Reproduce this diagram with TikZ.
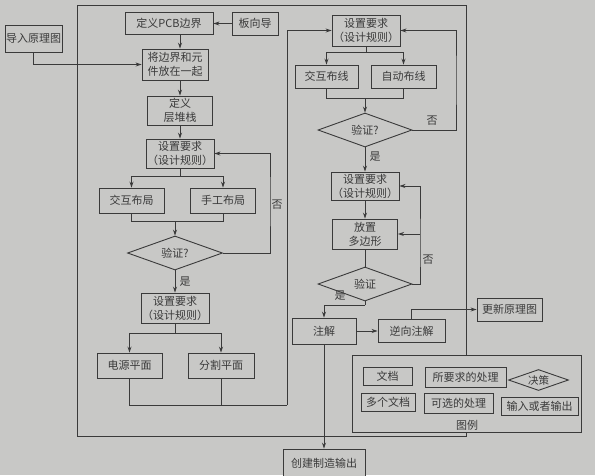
\documentclass[tikz,border=0pt]{standalone}
\usepackage{fontspec}
\setmainfont{Noto Sans CJK SC}
\usepackage{tikz}
\usetikzlibrary{calc,arrows.meta,shapes.geometric}
\definecolor{paper}{RGB}{200,200,198}
\definecolor{ink}{RGB}{58,58,58}

\begin{document}
\begin{tikzpicture}[x=1pt,y=-1pt,line width=.9pt,color=ink,>={Stealth[length=6pt,width=4pt]},font=\fontsize{11}{14}\selectfont]

\tikzset{procbox/.style={draw,fill=paper,rectangle,inner sep=1pt,minimum width=65pt,minimum height=25pt,align=center},
decide/.style={draw,fill=paper,diamond,shape aspect=3,inner sep=0pt,minimum width=95pt,minimum height=34pt},
keybox/.style={draw,fill=paper,rectangle,inner sep=1pt,minimum height=18pt},
answer/.style={inner sep=1pt}}

% Paper
\fill[paper] (0,0) rectangle (595,475);
\useasboundingbox (0,0) rectangle (595,475);

% Outer frame
\draw (77,5) rectangle (466,436);

% Left column
\node[procbox,minimum width=88pt,minimum height=22pt] (defPCB) at (169,23.5) {定义PCB边界};
\node[procbox,minimum width=46pt,minimum height=23pt] (boardWiz) at (255,23.5) {板向导};
\node[procbox,minimum width=57pt,minimum height=27pt] (importSch) at (33.5,38.5) {导入原理图};
\node[procbox,minimum width=66pt,minimum height=31pt] (place) at (175,64.5) {将边界和元\\件放在一起};
\node[procbox,minimum height=29pt] (layers) at (180,110.5) {定义\\层堆栈};
\node[procbox,minimum width=66pt,minimum height=29pt] (req1) at (180,153.5) {设置要求\\（设计规则）};
\node[procbox] (lay1) at (131.5,200.5) {交互布局};
\node[procbox] (lay2) at (223,200.5) {手工布局};
\node[decide] (ver1) at (175,253) {验证?};
\node[procbox,minimum width=67pt,minimum height=30pt] (req2) at (175,308) {设置要求\\（设计规则）};
\node[procbox] (pwr) at (129.5,365.5) {电源平面};
\node[procbox,minimum width=66pt] (split) at (221,365.5) {分割平面};

% Right column
\node[procbox,minimum width=67pt,minimum height=31pt] (req3) at (366,30.5) {设置要求\\（设计规则）};
\node[procbox,minimum width=63pt,minimum height=23pt] (route1) at (326.5,76.5) {交互布线};
\node[procbox,minimum height=23pt] (route2) at (403.5,76.5) {自动布线};
\node[decide,minimum width=94pt] (ver2) at (365,130) {验证?};
\node[procbox,minimum height=28pt] (req4) at (365,186) {设置要求\\（设计规则）};
\node[procbox,minimum height=30pt] (poly) at (365,234) {放置\\多边形};
\node[decide,minimum width=94pt] (ver3) at (365,284) {验证};
\node[procbox,minimum width=64pt,minimum height=26pt] (annot) at (324,331) {注解};
\node[procbox,minimum width=67pt,minimum height=23pt] (backAnnot) at (411.5,331) {逆向注解};
\node[procbox,minimum height=23pt] (updSch) at (509.5,309.5) {更新原理图};
\node[procbox,minimum width=82pt,minimum height=28pt] (mfgOut) at (324,463) {创建制造输出};

% Yes / no
\node[answer] (no1) at (277,205) {否};
\node[answer] (yes1) at (185,282) {是};
\node[answer] (no2) at (432,121) {否};
\node[answer] (yes2) at (375,157) {是};
\node[answer] (no3) at (428,260) {否};
\node[answer] (yes3) at (340,296) {是};

% Junctions
\coordinate (fork1) at ($(req1.south)+(0,8)$);
\coordinate (join1) at (175,221);
\coordinate (loop1) at (270,200);
\coordinate (fork2) at ($(req2.south)+(0,10)$);
\coordinate (join2) at (287,405);
\coordinate (fork3) at ($(req3.south)+(0,6)$);
\coordinate (join3) at (365,98);
\coordinate (loop2) at (456,80);
\coordinate (loop3) at (420,250);
\coordinate (bend3) at ($(ver3.south)+(0,4)$);

% Left column edges
\draw[->] (boardWiz.west) -- (defPCB.east);
\draw[->] (importSch.south) |- (place.west);
\draw[->] (defPCB.south -| layers) -- (place.north -| layers);
\draw[->] (place.south -| layers) -- (layers.north);
\draw[->] (layers.south) -- (req1.north);
\draw (req1.south) -- (fork1);
\draw[->] (fork1) -| (lay1.north);
\draw[->] (fork1) -| (lay2.north);
\draw (lay1.south) |- (join1);
\draw (lay2.south) |- (join1);
\draw[->] (join1) -- (ver1.north);
\draw[->] (ver1.east) -| (loop1) |- (req1.east);
\draw[->] (ver1.south) -- (req2.north);
\draw (req2.south) -- (fork2);
\draw[->] (fork2) -| (pwr.north);
\draw[->] (fork2) -| (split.north);
\draw (pwr.south) |- (join2);
\draw (split.south) |- (join2);
\draw[->] (join2) |- (req3.west);

% Right column edges
\draw (req3.south) -- (fork3);
\draw[->] (fork3) -| (route1.north);
\draw[->] (fork3) -| (route2.north);
\draw (route1.south) |- (join3);
\draw (route2.south) |- (join3);
\draw[->] (join3) -- (ver2.north);
\draw[->] (ver2.east) -| (loop2) |- (req3.east);
\draw[->] (ver2.south) -- (req4.north);
\draw[->] (req4.south) -- (poly.north);
\draw (poly.south) -- (ver3.north);
\draw[->] (ver3.east) -| (loop3) |- (req4.east);
\draw[->] (loop3 |- poly.east) -- (poly.east);
\draw (ver3.south) -- (bend3);
\draw[->] (bend3) -| (annot.north);
\draw[->] (annot.east) -- (backAnnot.west);
\draw[->] (backAnnot.north) |- (updSch.west);
\draw[->] (annot.south) -- (mfgOut.north);

% Legend
\node[draw,fill=paper,minimum width=229pt,minimum height=77pt,inner sep=0pt] (legend) at (466.5,393.5) {};
\node[keybox,minimum width=49pt] (keyDoc) at (387.5,376) {文档};
\node[keybox,minimum width=81pt,minimum height=20pt] (keyReq) at (465.5,377.5) {所要求的处理};
\node[decide,minimum width=60pt,minimum height=21pt,font=\fontsize{10.5}{12}\selectfont] (keyDec) at (538.5,380) {决策};
\node[keybox,minimum width=54pt] (keyDocs) at (388,402) {多个文档};
\node[keybox,minimum width=69pt,minimum height=20pt] (keyOpt) at (458.5,403.5) {可选的处理};
\node[keybox,minimum width=77pt] (keyIO) at (539.5,406) {输入或者输出};
\node (keyTitle) at (467,425) {图例};

\end{tikzpicture}
\end{document}
